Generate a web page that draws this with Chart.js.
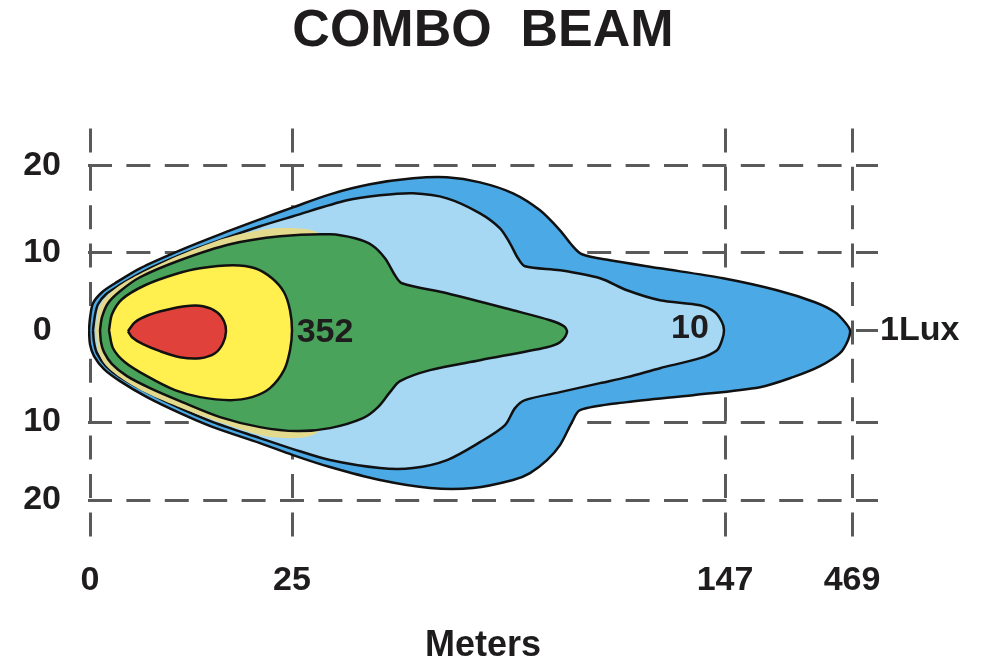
<!DOCTYPE html>
<html>
<head>
<meta charset="utf-8">
<script src="https://cdn.jsdelivr.net/npm/chart.js@4"></script>
<style>
  html, body { margin: 0; padding: 0; background: #ffffff; }
  #wrap { width: 1000px; height: 668px; position: relative; }
</style>
</head>
<body>
<div id="wrap"><canvas id="c"></canvas></div>
<script>
// ---- Axis grid positions (plot units) and their printed labels ----
const xGridPos = [0, 20.2, 63.5, 76.2];
const xTickLabels = ['0', '25', '147', '469'];
const yGridPos = [16.5, 7.8, 0, -9.2, -17.0];
const yTickLabels = ['20', '10', '0', '10', '20'];
const rightTickPos = [0];
const rightTickLabels = ['1Lux'];

// ---- Contours (x, y in plot units) ----
const contour1Lux = [
  [-0.1,0],[0,1.2],[0.3,2.7],[1.2,3.8],[2.5,4.7],[5.0,6.2],[9.0,8.0],[13.0,9.6],[17.0,11.1],
  [20.3,12.3],[24.0,13.6],[28.0,14.6],[32.3,15.2],[35.7,15.3],[39.0,14.8],[42.3,13.7],[45.0,12.0],
  [47.0,10.0],[48.2,8.5],[49.2,7.6],[52.0,7.0],[57.0,6.2],[63.3,5.2],[68.7,4.0],[72.5,2.8],
  [74.5,1.8],[75.5,0.8],[76.0,0],[75.8,-1.0],[75.0,-2.3],[73.0,-3.6],[70.3,-4.7],[67.0,-5.7],
  [60.3,-6.5],[53.7,-7.2],[49.0,-8.0],[48.2,-9.2],[47.0,-11.5],[45.7,-13.0],[44.0,-14.3],
  [42.3,-15.0],[38.3,-15.8],[34.0,-15.8],[29.0,-15.0],[24.0,-13.7],[20.3,-12.5],[17.0,-11.3],
  [12.3,-9.7],[9.0,-8.3],[5.7,-6.7],[3.0,-5.1],[1.4,-3.9],[0.4,-2.6],[0,-1.4],[-0.1,0]
];
const contour10Lux = [
  [0.3,0],[0.5,1.5],[0.8,2.6],[1.6,3.6],[2.8,4.4],[5.2,5.8],[9.0,7.5],[13.0,9.0],[17.0,10.4],
  [20.3,11.4],[25.7,13.0],[29.0,13.5],[32.3,13.7],[35.7,13.2],[39.0,11.7],[41.0,10.2],[42.0,8.7],
  [42.8,7.2],[43.5,6.4],[47.0,6.0],[51.0,5.2],[53.7,4.0],[57.0,3.0],[61.0,2.5],[62.5,1.8],
  [63.2,0.8],[63.4,0],[63.2,-1.0],[62.7,-2.0],[61.0,-2.8],[57.0,-3.8],[53.7,-4.7],[51.0,-5.3],
  [47.0,-6.2],[43.5,-7.0],[42.5,-7.8],[41.5,-9.5],[39.0,-11.2],[35.7,-13.0],[32.3,-13.8],
  [29.0,-13.8],[24.0,-13.0],[20.3,-11.9],[17.0,-10.8],[12.3,-9.2],[9.0,-7.8],[5.7,-6.2],
  [3.0,-4.7],[1.6,-3.6],[0.7,-2.3],[0.4,-1.2],[0.3,0]
];
const contourHalo = [
  [0.6,0],[0.8,2.0],[1.5,3.2],[3.0,4.5],[5.5,5.9],[9.2,7.6],[13.5,9.2],[17.5,10.1],[20.5,10.2],
  [22.5,9.9],[23.5,9.0],[23.5,-9.0],[22.5,-10.4],[20.5,-10.8],[17.5,-10.6],[13.5,-9.4],
  [9.2,-7.8],[5.5,-6.2],[3.0,-4.7],[1.5,-3.4],[0.8,-2.0],[0.6,0]
];
const contourGreen = [
  [1.0,0],[1.2,1.3],[1.8,2.7],[3.0,3.9],[5.0,5.3],[9.0,7.0],[14.0,8.6],[19.0,9.4],[24.0,9.6],
  [26.5,9.2],[28.2,8.5],[29.5,7.2],[30.5,5.5],[31.2,4.7],[35.7,3.7],[42.3,2.0],[46.0,1.0],
  [47.4,0.4],[47.7,-0.2],[47.0,-1.2],[45.7,-1.7],[39.0,-3.0],[34.0,-4.0],[31.0,-5.1],[30.0,-6.2],
  [28.8,-7.7],[27.3,-8.8],[24.0,-9.8],[20.7,-10.1],[17.0,-9.7],[13.0,-8.7],[9.0,-7.1],[6.0,-5.8],
  [3.7,-4.6],[2.2,-3.4],[1.4,-2.2],[1.1,-1.2],[1.0,0]
];
const contourYellow = [
  [1.9,0],[2.2,1.6],[3.2,3.1],[5.5,4.5],[8.5,5.6],[11.0,6.2],[14.3,6.5],[16.5,6.2],[18.2,5.2],
  [19.4,3.8],[20.0,2.0],[20.2,0],[20.0,-2.0],[19.4,-4.0],[18.0,-5.8],[16.2,-6.7],[14.0,-7.0],
  [11.0,-6.7],[8.5,-6.0],[5.7,-4.6],[3.5,-3.2],[2.3,-1.8],[1.9,0]
];
const contourRed = [
  [3.8,-0.1],[4.5,0.8],[5.8,1.5],[7.5,2.0],[9.5,2.4],[11.3,2.4],[12.7,1.8],[13.4,0.9],[13.6,-0.1],
  [13.3,-1.3],[12.5,-2.3],[11.0,-2.8],[9.0,-2.7],[7.0,-2.1],[5.3,-1.4],[4.2,-0.7],[3.8,-0.1]
];

// ---- In-plot value labels ----
const valueLabels = ['352', '10'];
const valueLabelPos = [[23.5, -0.2], [60.0, 0.2]];

const FONT = "'Liberation Sans', Arial, Helvetica, sans-serif";
const TEXT = '#1e1c1d';

function pts(arr) { return arr.map(p => ({ x: p[0], y: p[1] })); }

function shape(data, color, order, outline) {
  return {
    data: pts(data),
    showLine: true,
    fill: 'shape',
    backgroundColor: color,
    borderColor: outline ? '#111111' : 'rgba(0,0,0,0)',
    borderWidth: outline ? 2.5 : 0.01,
    tension: 0.3,
    pointRadius: 0,
    pointHoverRadius: 0,
    order: order
  };
}

const valueLabelPlugin = {
  id: 'valueLabels',
  afterDatasetsDraw(chart) {
    const ctx = chart.ctx;
    const xs = chart.scales.x, ys = chart.scales.y;
    ctx.save();
    ctx.font = 'bold 34px ' + FONT;
    ctx.fillStyle = TEXT;
    ctx.textAlign = 'center';
    ctx.textBaseline = 'middle';
    valueLabels.forEach((t, i) => {
      ctx.fillText(t, xs.getPixelForValue(valueLabelPos[i][0]), ys.getPixelForValue(valueLabelPos[i][1]));
    });
    ctx.restore();
  }
};

const gridCommon = { color: '#5a5a5a', lineWidth: 3, drawTicks: false, tickLength: 0 };
const borderCommon = { display: false, dash: [24, 14.4] };

new Chart(document.getElementById('c'), {
  type: 'scatter',
  data: {
    datasets: [
      shape(contourRed, '#e0413a', 1, true),
      shape(contourYellow, '#fff04f', 2, true),
      shape(contourGreen, '#4aa35a', 3, true),
      shape(contourHalo, '#e4da8e', 4, false),
      shape(contour10Lux, '#a6d8f4', 5, true),
      shape(contour1Lux, '#4ba9e6', 6, true)
    ]
  },
  options: {
    responsive: true,
    maintainAspectRatio: false,
    animation: false,
    events: [],
    layout: { padding: { left: 24, right: 20, top: 0, bottom: 0 } },
    plugins: {
      legend: { display: false },
      tooltip: { enabled: false },
      title: {
        display: true,
        fullSize: false,
        text: 'COMBO  BEAM',
        color: TEXT,
        font: { family: FONT, size: 52, weight: 'bold' },
        padding: { top: 0, bottom: 66 }
      }
    },
    scales: {
      x: {
        type: 'linear',
        min: -0.2,
        max: 78.8,
        z: 1,
        grid: gridCommon,
        border: borderCommon,
        afterBuildTicks: s => { s.ticks = xGridPos.map(v => ({ value: v })); },
        afterFit: s => { s.height = 128; },
        ticks: {
          autoSkip: false,
          maxRotation: 0,
          padding: 20,
          color: TEXT,
          font: { family: FONT, size: 34, weight: 'bold' },
          callback: (v, i) => xTickLabels[i]
        },
        title: {
          display: true,
          text: 'Meters',
          color: TEXT,
          font: { family: FONT, size: 36, weight: 'bold' },
          padding: { top: 26, bottom: 0 }
        }
      },
      y: {
        type: 'linear',
        min: -21,
        max: 20.2,
        z: 1,
        grid: gridCommon,
        border: borderCommon,
        afterBuildTicks: s => { s.ticks = yGridPos.map(v => ({ value: v })); },
        afterFit: s => { s.width = 64; },
        ticks: {
          autoSkip: false,
          padding: 27,
          crossAlign: 'center',
          color: TEXT,
          font: { family: FONT, size: 34, weight: 'bold' },
          callback: (v, i) => yTickLabels[i]
        }
      },
      y2: {
        type: 'linear',
        position: 'right',
        min: -21,
        max: 20.2,
        grid: { display: false, drawTicks: false, tickLength: 0 },
        border: { display: false },
        afterBuildTicks: s => { s.ticks = rightTickPos.map(v => ({ value: v })); },
        afterFit: s => { s.width = 102; },
        ticks: {
          autoSkip: false,
          padding: 2,
          color: TEXT,
          font: { family: FONT, size: 34, weight: 'bold' },
          callback: (v, i) => rightTickLabels[i]
        }
      }
    }
  },
  plugins: [valueLabelPlugin]
});
</script>
</body>
</html>
